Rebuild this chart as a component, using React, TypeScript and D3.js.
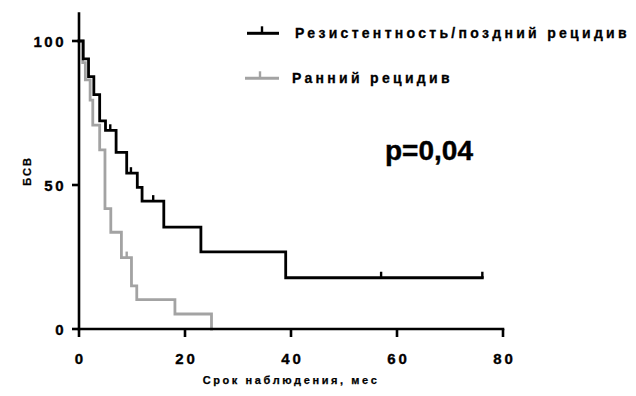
import React from "react";
import * as d3 from "d3";

// Kaplan–Meier steps: [months, event-free survival %]
const lateRelapseSteps: [number, number][] = [
  [0, 100], [0.8, 93.8], [1.8, 87.6], [2.8, 81.4], [3.9, 72.3], [5.0, 69.0],
  [7.0, 61.3], [9.0, 54.1], [11.0, 49.2], [11.9, 44.4], [16.0, 35.4],
  [23.0, 26.8], [39.0, 17.8], [76.1, 17.8],
];
const lateRelapseCensored: [number, number][] = [
  [5.9, 69.0], [9.8, 54.1], [14.0, 44.4], [57.0, 17.8], [76.1, 17.8],
];
const earlyRelapseSteps: [number, number][] = [
  [0, 100], [0.7, 92.5], [1.2, 86.5], [2.1, 79.5], [2.6, 70.8], [3.9, 62.2],
  [4.9, 41.8], [6.0, 33.6], [8.0, 24.8], [9.9, 15.0], [10.9, 10.2],
  [18.1, 5.2], [25.0, 0],
];
const earlyRelapseCensored: [number, number][] = [[9.0, 24.8]];

const xTicks = [0, 20, 40, 60, 80];
const yTicks = [0, 50, 100];
const seriesNames = ["Резистентность/поздний рецидив", "Ранний рецидив"];
const seriesColors = ["#000000", "#a3a3a3"];
const xTitle = "Срок наблюдения, мес";
const yTitle = "БСВ";
const pValueLabel = "p=0,04";

const W = 636;
const H = 396;
const FONT = "'Liberation Sans', Arial, Helvetica, sans-serif";

export default function App() {
  const x = d3.scaleLinear().domain([0, 80]).range([79, 503]);
  const y = d3.scaleLinear().domain([0, 100]).range([329, 41]);
  const yTop = y(110);

  const line = d3
    .line<[number, number]>()
    .x((d) => x(d[0]))
    .y((d) => y(d[1]))
    .curve(d3.curveStepAfter);

  const tickH = 6;
  const series = [
    { steps: lateRelapseSteps, cens: lateRelapseCensored, color: seriesColors[0] },
    { steps: earlyRelapseSteps, cens: earlyRelapseCensored, color: seriesColors[1] },
  ];
  // slight outline gives the heavy label weight
  const heavy = { stroke: "#000", strokeWidth: 0.35 };

  return (
    <svg
      width={W}
      height={H}
      viewBox={`0 0 ${W} ${H}`}
      style={{ position: "absolute", left: 0, top: 0, background: "#fff" }}
      fontFamily={FONT}
    >
      {/* curves, grey drawn first so black sits on top */}
      {[...series].reverse().map((s, i) => (
        <g key={i}>
          <path d={line(s.steps) ?? ""} fill="none" stroke={s.color} strokeWidth={2.8} strokeLinejoin="miter" strokeLinecap="square" />
          {s.cens.map((c, j) => (
            <line key={j} x1={x(c[0])} x2={x(c[0])} y1={y(c[1])} y2={y(c[1]) - tickH} stroke={s.color} strokeWidth={2.4} />
          ))}
        </g>
      ))}

      {/* y axis */}
      <line x1={x(0)} x2={x(0)} y1={yTop} y2={y(0) + 1.3} stroke="#000" strokeWidth={2.6} />
      {yTicks.map((t) => (
        <g key={t}>
          <line x1={x(0) - 7} x2={x(0)} y1={y(t)} y2={y(t)} stroke="#000" strokeWidth={2.6} />
          <text x={66} y={y(t) + 5.5} textAnchor="end" fontSize={15} fontWeight="bold" letterSpacing={2.5} {...heavy}>
            {t}
          </text>
        </g>
      ))}

      {/* x axis */}
      <line x1={x(0) - 1.3} x2={x(80) + 1.3} y1={y(0)} y2={y(0)} stroke="#000" strokeWidth={2.6} />
      {xTicks.map((t) => (
        <g key={t}>
          <line x1={x(t)} x2={x(t)} y1={y(0)} y2={y(0) + 8} stroke="#000" strokeWidth={2.6} />
          <text x={x(t) + 1.5} y={363.5} textAnchor="middle" fontSize={15} fontWeight="bold" letterSpacing={3} {...heavy}>
            {t}
          </text>
        </g>
      ))}

      {/* axis titles */}
      <text x={291} y={383.5} textAnchor="middle" fontSize={11} fontWeight="bold" letterSpacing={2.6} {...heavy} strokeWidth={0.25}>
        {xTitle}
      </text>
      <text
        transform={`translate(31,171) rotate(-90)`}
        textAnchor="middle"
        fontSize={11}
        fontWeight="bold"
        letterSpacing={2}
        {...heavy}
        strokeWidth={0.25}
      >
        {yTitle}
      </text>

      {/* legend */}
      {seriesNames.map((name, i) => {
        const ly = i === 0 ? 33.3 : 78.3;
        const lx0 = i === 0 ? 247 : 245;
        return (
          <g key={name}>
            <line x1={lx0} x2={279} y1={ly} y2={ly} stroke={seriesColors[i]} strokeWidth={3} />
            <line x1={i === 0 ? 262 : 260} x2={i === 0 ? 262 : 260} y1={ly} y2={ly - 7} stroke={seriesColors[i]} strokeWidth={2.4} />
            <text x={i === 0 ? 295 : 292} y={ly + 4.5} fontSize={14} fontWeight="bold" letterSpacing={3.3} {...heavy} strokeWidth={0.3}>
              {name}
            </text>
          </g>
        );
      })}

      {/* p-value annotation */}
      <text x={385} y={159.5} fontSize={28} fontWeight="bold" {...heavy} strokeWidth={0.4}>
        {pValueLabel}
      </text>
    </svg>
  );
}
